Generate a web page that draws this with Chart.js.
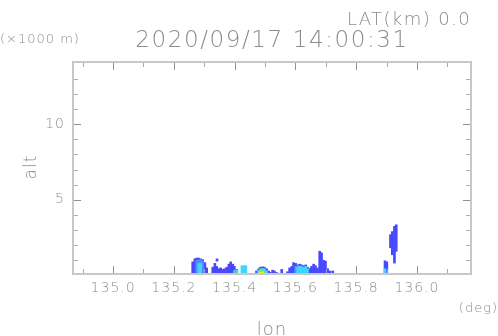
<!DOCTYPE html>
<html>
<head>
<meta charset="utf-8">
<script src="https://cdn.jsdelivr.net/npm/chart.js@4/dist/chart.umd.min.js"></script>
<style>
  html, body { margin: 0; padding: 0; background: #fff; }
  #wrap { width: 498px; height: 336px; }
</style>
</head>
<body>
<div id="wrap"><canvas id="c" width="498" height="336"></canvas></div>
<script>
// echo columns, lon (deg) with bottom / top altitude (x1000 m)
const blueLon = [135.262, 135.269, 135.275, 135.282, 135.288, 135.295, 135.302, 135.308,
  135.342,
  135.328, 135.335, 135.341, 135.348, 135.354, 135.361, 135.367, 135.374, 135.381, 135.387, 135.394, 135.400, 135.407,
  135.472, 135.479, 135.485, 135.492, 135.498, 135.505, 135.512, 135.518, 135.525, 135.531, 135.538,
  135.555,
  135.574, 135.581, 135.588, 135.594, 135.601, 135.607, 135.614, 135.620, 135.627, 135.634, 135.640, 135.647,
  135.653, 135.660, 135.666, 135.673, 135.680, 135.686, 135.693, 135.699, 135.706, 135.713, 135.723,
  135.895, 135.901, 135.913, 135.919, 135.926, 135.932];
const blueBase = [0, 0, 0, 0, 0, 0, 0, 0,
  0.95,
  0, 0, 0, 0, 0, 0, 0, 0, 0, 0, 0, 0, 0,
  0, 0, 0, 0, 0, 0, 0, 0, 0, 0, 0,
  0,
  0, 0, 0, 0, 0, 0, 0, 0, 0, 0, 0, 0,
  0, 0, 0, 0, 0, 0, 0, 0, 0, 0, 0.15,
  0, 0, 1.83, 1.37, 0.82, 1.6];
const blueTop = [0.9, 1.1, 1.15, 1.15, 1.1, 1.05, 0.85, 0.5,
  1.1,
  0.55, 0.8, 0.6, 0.45, 0.5, 0.4, 0.45, 0.55, 0.75, 0.9, 0.75, 0.6, 0.4,
  0.3, 0.45, 0.55, 0.57, 0.55, 0.45, 0.3, 0.2, 0.35, 0.3, 0.2,
  0.4,
  0.25, 0.5, 0.6, 0.85, 0.8, 0.7, 0.75, 0.7, 0.65, 0.7, 0.55, 0.45,
  0.6, 0.75, 0.65, 0.5, 1.6, 1.5, 1.0, 0.95, 0.45, 0.3, 0.3,
  0.97, 0.9, 2.7, 2.9, 3.25, 3.35];

const midLon = [135.275, 135.282, 135.288, 135.295, 135.601, 135.607, 135.614, 135.620];
const midBase = [0.2, 0.2, 0.2, 0.2, 0, 0, 0, 0];
const midTop = [1.0, 1.05, 1.05, 0.95, 0.6, 0.65, 0.65, 0.6];

const cyanLon = [135.282, 135.288, 135.400, 135.407, 135.424, 135.431, 135.437,
  135.479, 135.485, 135.492, 135.498, 135.505,
  135.607, 135.614, 135.620, 135.627, 135.634, 135.640, 135.895];
const cyanBase = [0.1, 0.1, 0, 0, 0, 0, 0, 0, 0, 0, 0, 0, 0, 0, 0, 0, 0, 0, 0];
const cyanTop = [0.8, 0.8, 0.35, 0.35, 0.65, 0.65, 0.65,
  0.35, 0.45, 0.47, 0.45, 0.3,
  0.55, 0.6, 0.6, 0.55, 0.6, 0.45, 0.45];

const greenLon = [135.404, 135.479, 135.485, 135.492, 135.498];
const greenBase = [0, 0, 0, 0, 0];
const greenTop = [0.2, 0.25, 0.35, 0.37, 0.3];

const yellowLon = [135.485, 135.492];
const yellowBase = [0, 0];
const yellowTop = [0.22, 0.24];

const xMajorTicks = [135.0, 135.2, 135.4, 135.6, 135.8, 136.0];
const xMinorTicks = [134.9, 135.1, 135.3, 135.5, 135.7, 135.9, 136.1];
const yMajorTicks = [5, 10];
const yMinorTicks = [1, 2, 3, 4, 6, 7, 8, 9, 11, 12, 13];

function cols(lon, base, top) {
  return lon.map((x, i) => ({ x: x, y: [base[i], top[i]] }));
}

const textGray = "#8c8c8c";
const fontFam = "'DejaVu Sans'";

// wider letter spacing for the tick labels, like the original stroke font
const spacing = {
  id: "spacing",
  beforeDraw(chart) { chart.ctx.letterSpacing = "1px"; }
};

const frame = {
  id: "frame",
  afterDraw(chart) {
    const ctx = chart.ctx;
    const a = chart.chartArea;
    const xs = chart.scales.x, ys = chart.scales.y;
    ctx.save();
    // inward tick marks
    function tick(x1, y1, x2, y2, col) {
      ctx.strokeStyle = col;
      ctx.lineWidth = 1;
      ctx.beginPath();
      ctx.moveTo(x1, y1);
      ctx.lineTo(x2, y2);
      ctx.stroke();
    }
    xMajorTicks.forEach(v => {
      const p = Math.round(xs.getPixelForValue(v)) + 0.5;
      tick(p, a.bottom, p, a.bottom - 8, "#909090");
      tick(p, a.top, p, a.top + 8, "#909090");
    });
    xMinorTicks.forEach(v => {
      const p = Math.round(xs.getPixelForValue(v)) + 0.5;
      tick(p, a.bottom, p, a.bottom - 5, "#a8a8a8");
      tick(p, a.top, p, a.top + 5, "#a8a8a8");
    });
    yMajorTicks.forEach(v => {
      const p = Math.round(ys.getPixelForValue(v)) + 0.5;
      tick(a.left, p, a.left + 8, p, "#909090");
      tick(a.right, p, a.right - 8, p, "#909090");
    });
    yMinorTicks.forEach(v => {
      const p = Math.round(ys.getPixelForValue(v)) + 0.5;
      tick(a.left, p, a.left + 5, p, "#b0b0b0");
      tick(a.right, p, a.right - 5, p, "#b0b0b0");
    });
    // frame
    ctx.strokeStyle = "#c8c8c8";
    ctx.lineWidth = 2;
    ctx.strokeRect(a.left, a.top, a.right - a.left, a.bottom - a.top);

    // texts
    ctx.fillStyle = textGray;
    ctx.textBaseline = "alphabetic";
    ctx.letterSpacing = "1.4px";
    ctx.font = "200 18px " + fontFam;
    ctx.textAlign = "right";
    ctx.fillText("LAT(km) 0.0", 471, 25);
    ctx.letterSpacing = "1.6px";
    ctx.font = "200 23px " + fontFam;
    ctx.textAlign = "center";
    ctx.fillText("2020/09/17 14:00:31", 272, 47);
    ctx.letterSpacing = "1px";
    ctx.font = "200 13px " + fontFam;
    ctx.textAlign = "left";
    ctx.fillText("(\u00d71000 m)", 0, 43);
    ctx.textAlign = "right";
    ctx.fillText("(deg)", 498, 312);
    ctx.letterSpacing = "1px";
    ctx.font = "200 18px " + fontFam;
    ctx.textAlign = "center";
    ctx.fillText("lon", 272, 335);
    ctx.translate(36, 167);
    ctx.rotate(-Math.PI / 2);
    ctx.font = "200 17px " + fontFam;
    ctx.fillText("alt", 0, 0);
    ctx.restore();
  }
};

const barStyle = { grouped: false, barThickness: 2, borderWidth: 0 };

new Chart(document.getElementById("c"), {
  type: "bar",
  data: {
    datasets: [
      Object.assign({ data: cols(yellowLon, yellowBase, yellowTop), backgroundColor: "#f0ec3c" }, barStyle),
      Object.assign({ data: cols(greenLon, greenBase, greenTop), backgroundColor: "#6ee06e" }, barStyle),
      Object.assign({ data: cols(cyanLon, cyanBase, cyanTop), backgroundColor: "#40d4ff" }, barStyle),
      Object.assign({ data: cols(midLon, midBase, midTop), backgroundColor: "#4a90ff" }, barStyle),
      Object.assign({ data: cols(blueLon, blueBase, blueTop), backgroundColor: "#4848ff" }, barStyle)
    ]
  },
  options: {
    responsive: false,
    animation: false,
    layout: { padding: { top: 62, right: 27, left: 0, bottom: 0 } },
    plugins: { legend: { display: false }, tooltip: { enabled: false } },
    scales: {
      x: {
        type: "linear",
        min: 134.868,
        max: 136.178,
        offset: false,
        grid: { display: false, drawTicks: false },
        border: { display: false },
        afterBuildTicks: s => { s.ticks = xMajorTicks.map(v => ({ value: v })); },
        afterFit: s => { s.height = 62; },
        ticks: {
          padding: 6,
          maxRotation: 0,
          color: textGray,
          font: { family: "DejaVu Sans", size: 14, weight: "200" },
          callback: v => v.toFixed(1)
        }
      },
      y: {
        type: "linear",
        min: 0.1,
        max: 14.1,
        grid: { display: false, drawTicks: false },
        border: { display: false },
        afterBuildTicks: s => { s.ticks = yMajorTicks.map(v => ({ value: v })); },
        afterFit: s => { s.width = 73; },
        ticks: {
          padding: 8,
          color: textGray,
          font: { family: "DejaVu Sans", size: 14, weight: "200" },
          callback: v => String(v)
        }
      }
    }
  },
  plugins: [spacing, frame]
});
</script>
</body>
</html>
